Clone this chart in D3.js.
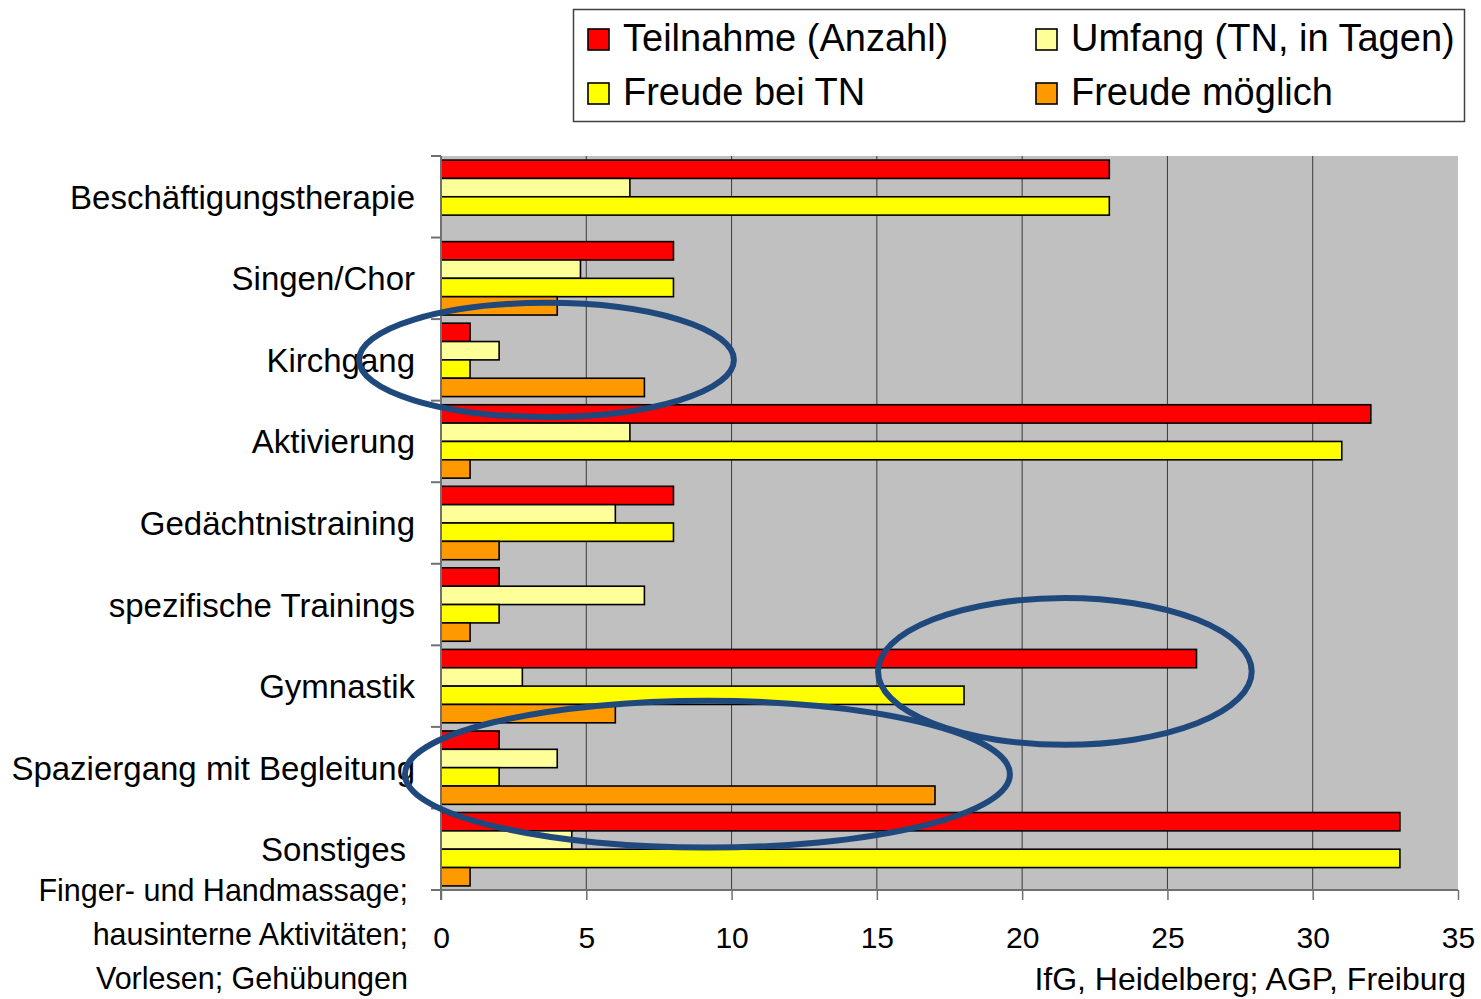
<!DOCTYPE html>
<html>
<head>
<meta charset="utf-8">
<script src="https://cdn.jsdelivr.net/npm/d3@7"></script>
<style>
  html, body { margin: 0; padding: 0; background: #ffffff; }
  svg { display: block; font-family: "Liberation Sans", Arial, sans-serif; }
</style>
</head>
<body>
<svg id="chart" width="1481" height="999"></svg>
<script>
// ---- data ----
const categories = [
  "Beschäftigungstherapie",
  "Singen/Chor",
  "Kirchgang",
  "Aktivierung",
  "Gedächtnistraining",
  "spezifische Trainings",
  "Gymnastik",
  "Spaziergang mit Begleitung",
  "Sonstiges"
];
const sonstigesDetail = ["Finger- und Handmassage;", "hausinterne Aktivitäten;", "Vorlesen; Gehübungen"];
const seriesNames = ["Teilnahme (Anzahl)", "Umfang (TN, in Tagen)", "Freude bei TN", "Freude möglich"];
const seriesColors = ["#ff0000", "#ffff99", "#ffff00", "#ff9900"];
const teilnahme    = [23, 8, 1, 32, 8, 2, 26, 2, 33];
const umfang       = [6.5, 4.8, 2, 6.5, 6, 7, 2.8, 4, 4.5];
const freudeBeiTN  = [23, 8, 1, 31, 8, 2, 18, 2, 33];
const freudeMoegl  = [0, 4, 7, 1, 2, 1, 6, 17, 1];
const xTicks = [0, 5, 10, 15, 20, 25, 30, 35];
const sourceText = "IfG, Heidelberg; AGP, Freiburg";
// annotation ellipses: centre in value units / category, radii in value units / band steps
const annotations = [
  { cat: "Kirchgang",  dy: 0.0,   cx: 3.63,  rx: 6.45, ry: 0.70 },
  { cat: "Gymnastik",  dy: -0.18, cx: 21.47, rx: 6.43, ry: 0.90 },
  { cat: "Spaziergang mit Begleitung", dy: 0.08, cx: 9.17, rx: 10.41, ry: 0.90 }
];

const seriesValues = [teilnahme, umfang, freudeBeiTN, freudeMoegl];

// ---- layout ----
const svg = d3.select("#chart");
const plot = { left: 441, right: 1458, top: 156, bottom: 890 };

const x = d3.scaleLinear().domain([0, 35]).range([plot.left, plot.right]);
const y = d3.scaleBand().domain(categories).range([plot.top, plot.bottom])
  .paddingInner(0.1).paddingOuter(0.05);
const yInner = d3.scaleBand().domain(d3.range(seriesNames.length)).range([0, y.bandwidth()]);
const step = y.step();

// plot background
svg.append("rect")
  .attr("x", plot.left).attr("y", plot.top)
  .attr("width", plot.right - plot.left).attr("height", plot.bottom - plot.top)
  .attr("fill", "#c0c0c0");

// gridlines
svg.append("g").selectAll("line")
  .data(xTicks.filter(d => d > 0 && d < 35))
  .join("line")
  .attr("x1", d => x(d)).attr("x2", d => x(d))
  .attr("y1", plot.top).attr("y2", plot.bottom)
  .attr("stroke", "#3a3a3a").attr("stroke-width", 1);

// bars
const rows = [];
categories.forEach((c, i) => {
  seriesValues.forEach((vals, s) => {
    if (vals[i] > 0) rows.push({ cat: c, s: s, v: vals[i] });
  });
});
svg.append("g").selectAll("rect")
  .data(rows)
  .join("rect")
  .attr("x", x(0))
  .attr("y", d => y(d.cat) + yInner(d.s))
  .attr("width", d => x(d.v) - x(0))
  .attr("height", yInner.bandwidth())
  .attr("fill", d => seriesColors[d.s])
  .attr("stroke", "#000")
  .attr("stroke-width", 1.6);

// left axis line + ticks at band boundaries
const leftAxis = svg.append("g");
leftAxis.append("line")
  .attr("x1", plot.left).attr("x2", plot.left)
  .attr("y1", plot.top).attr("y2", plot.bottom + 10)
  .attr("stroke", "#707070").attr("stroke-width", 2);
leftAxis.selectAll("line.tick")
  .data(d3.range(categories.length + 1))
  .join("line").attr("class", "tick")
  .attr("x1", plot.left - 10).attr("x2", plot.left)
  .attr("y1", i => plot.top + i * step).attr("y2", i => plot.top + i * step)
  .attr("stroke", "#707070").attr("stroke-width", 2);

// category labels
const labels = svg.append("g").attr("font-size", 33).attr("text-anchor", "end").attr("fill", "#000");
categories.forEach((c, i) => {
  if (c === "Sonstiges") return;
  labels.append("text")
    .attr("x", 415)
    .attr("y", y(c) + y.bandwidth() / 2 + 12)
    .text(c);
});
// multiline Sonstiges label
const sc = y("Sonstiges") + y.bandwidth() / 2;
labels.append("text").attr("x", 406).attr("y", sc + 12).attr("font-size", 33).text("Sonstiges");
sonstigesDetail.forEach((t, k) => {
  labels.append("text")
    .attr("x", 408)
    .attr("y", sc + 12 + 40 + k * 44)
    .attr("font-size", 30.5)
    .text(t);
});

// bottom axis
const xAxis = d3.axisBottom(x).tickValues(xTicks).tickSize(10).tickPadding(27).tickFormat(d3.format("d"));
const gx = svg.append("g").attr("transform", `translate(0,${plot.bottom})`).call(xAxis);
gx.select(".domain").attr("stroke", "#707070").attr("stroke-width", 2)
  .attr("d", `M${plot.left - 10},0H${plot.right}`);
gx.selectAll(".tick line").attr("stroke", "#707070").attr("stroke-width", 1.5);
gx.selectAll(".tick text").attr("font-size", 30).attr("fill", "#000")
  .attr("font-family", "'Liberation Sans', Arial, sans-serif");

// source
svg.append("text")
  .attr("x", 1466).attr("y", 990)
  .attr("text-anchor", "end").attr("font-size", 32).attr("fill", "#000")
  .text(sourceText);

// legend
const legend = svg.append("g");
legend.append("rect")
  .attr("x", 573.5).attr("y", 9.5).attr("width", 891).attr("height", 112)
  .attr("fill", "#fff").attr("stroke", "#404040").attr("stroke-width", 1.5);
const legPos = [
  { x: 588, y: 29 }, { x: 1036, y: 29 },
  { x: 588, y: 83 }, { x: 1036, y: 83 }
];
seriesNames.forEach((n, i) => {
  const p = legPos[i];
  legend.append("rect")
    .attr("x", p.x).attr("y", p.y).attr("width", 21).attr("height", 21)
    .attr("fill", seriesColors[i]).attr("stroke", "#000").attr("stroke-width", 1.6);
  legend.append("text")
    .attr("x", p.x + 35).attr("y", p.y + 22)
    .attr("font-size", 38).attr("fill", "#000")
    .text(n);
});

// annotation ellipses
const unit = x(1) - x(0);
svg.append("g").selectAll("ellipse")
  .data(annotations)
  .join("ellipse")
  .attr("cx", d => x(d.cx))
  .attr("cy", d => y(d.cat) + y.bandwidth() / 2 + d.dy * step)
  .attr("rx", d => d.rx * unit)
  .attr("ry", d => d.ry * step)
  .attr("fill", "none")
  .attr("stroke", "#1f497d")
  .attr("stroke-width", 6);
</script>
</body>
</html>
